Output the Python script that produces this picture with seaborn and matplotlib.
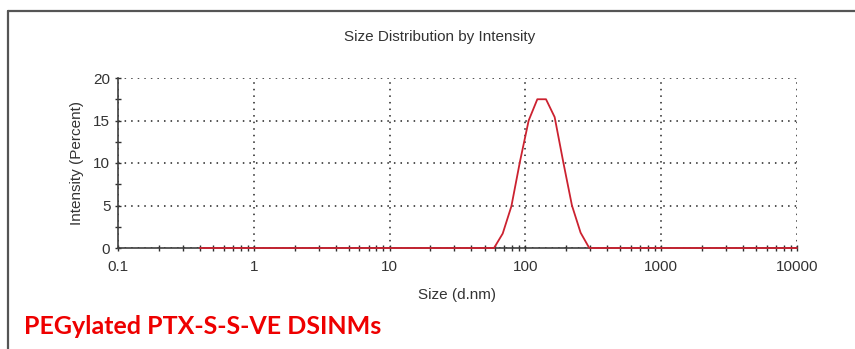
import matplotlib
matplotlib.use("Agg")
import matplotlib.pyplot as plt
import matplotlib.ticker as mticker
from matplotlib.lines import Line2D
import seaborn as sns
import pandas as pd

# Size bins (d.nm) and intensity (%)
sizes = [0.4, 0.4632, 0.5365, 0.6213, 0.7195, 0.8332, 0.9649, 1.117, 1.294, 1.499,
         1.736, 2.01, 2.328, 2.696, 3.122, 3.615, 4.187, 4.849, 5.615, 6.503,
         7.531, 8.721, 10.1, 11.7, 13.54, 15.69, 18.17, 21.04, 24.36, 28.21,
         32.67, 37.84, 43.82, 50.75, 58.77, 68.06, 78.82, 91.28, 105.7, 122.4,
         141.8, 164.2, 190.1, 220.2, 255.0, 295.3, 342.0, 396.1, 458.7, 531.2,
         615.1, 712.4, 825.0, 955.4, 1106, 1281, 1484, 1718, 1990, 2305,
         2669, 3091, 3580, 4145, 4801, 5560, 6439, 7456, 8635, 10000]
intensity = [0, 0, 0, 0, 0, 0, 0, 0, 0, 0,
             0, 0, 0, 0, 0, 0, 0, 0, 0, 0,
             0, 0, 0, 0, 0, 0, 0, 0, 0, 0,
             0, 0, 0, 0, 0, 1.7, 4.9, 10.2, 15.0, 17.5,
             17.5, 15.4, 10.1, 5.0, 1.8, 0, 0, 0, 0, 0,
             0, 0, 0, 0, 0, 0, 0, 0, 0, 0,
             0, 0, 0, 0, 0, 0, 0, 0, 0, 0]
x_ticks = [0.1, 1, 10, 100, 1000, 10000]
x_tick_labels = ["0.1", "1", "10", "100", "1000", "10000"]
y_ticks = [0, 5, 10, 15, 20]

title = "Size Distribution by Intensity"
x_label = "Size (d.nm)"
y_label = "Intensity (Percent)"
sample_label = "PEGylated PTX-S-S-VE DSINMs"

df = pd.DataFrame({"size": sizes, "intensity": intensity})

sns.set_style("white")
plt.rcParams["font.family"] = ["Liberation Sans", "DejaVu Sans"]

W, H = 855, 349
fig = plt.figure(figsize=(W / 100, H / 100), dpi=100)
ax = fig.add_axes([118 / W, 1 - 248 / H, (797 - 118) / W, (248 - 78) / H])

sns.lineplot(data=df, x="size", y="intensity", ax=ax, color="#cc2230",
             linewidth=1.3, zorder=5, clip_on=False)

ax.set_xscale("log")
ax.set_xlim(0.1, 10000)
ax.set_ylim(0, 20)
ax.set_xticks(x_ticks)
ax.set_xticklabels(x_tick_labels)
ax.xaxis.set_minor_locator(mticker.LogLocator(base=10, subs=range(2, 10), numticks=20))
ax.xaxis.set_minor_formatter(mticker.NullFormatter())
ax.set_yticks(y_ticks)
ax.yaxis.set_minor_locator(mticker.MultipleLocator(2.5))

ax.grid(True, which="major", color="#222222", linestyle=(0, (1, 3.3)), linewidth=1.1)
ax.set_axisbelow(True)

for s in ["top", "right"]:
    ax.spines[s].set_visible(False)
for s in ["left", "bottom"]:
    ax.spines[s].set_color("#404040")
    ax.spines[s].set_linewidth(1.2)

ax.tick_params(axis="both", which="both", bottom=True, left=True, top=False, right=False)
ax.tick_params(axis="both", which="major", direction="inout", length=5, width=1.0,
               color="#303030", labelsize=11, labelcolor="#333333", pad=3)
ax.tick_params(axis="both", which="minor", direction="inout", length=4, width=1.0,
               color="#303030")
ax.tick_params(axis="x", which="major", pad=6)

ax.set_xlabel(x_label, fontsize=11, color="#333333", labelpad=10)
ax.set_ylabel(y_label, fontsize=11, color="#333333", labelpad=7)
fig.text(440 / W, 1 - 37 / H, title, ha="center", va="center", fontsize=11, color="#333333")

fig.text(24 / W, 1 - 327 / H, sample_label, ha="left", va="center", fontsize=18,
         fontweight="bold", color="#ee0000", family=["Lato", "DejaVu Sans"])

frame_col = "#555555"
fig.add_artist(Line2D([8 / W, 8 / W], [0, 1 - 11 / H], transform=fig.transFigure,
                      color=frame_col, linewidth=1.6))
fig.add_artist(Line2D([8 / W, 1], [1 - 11 / H, 1 - 11 / H], transform=fig.transFigure,
                      color=frame_col, linewidth=1.6))

fig.savefig("out.png", dpi=100)
